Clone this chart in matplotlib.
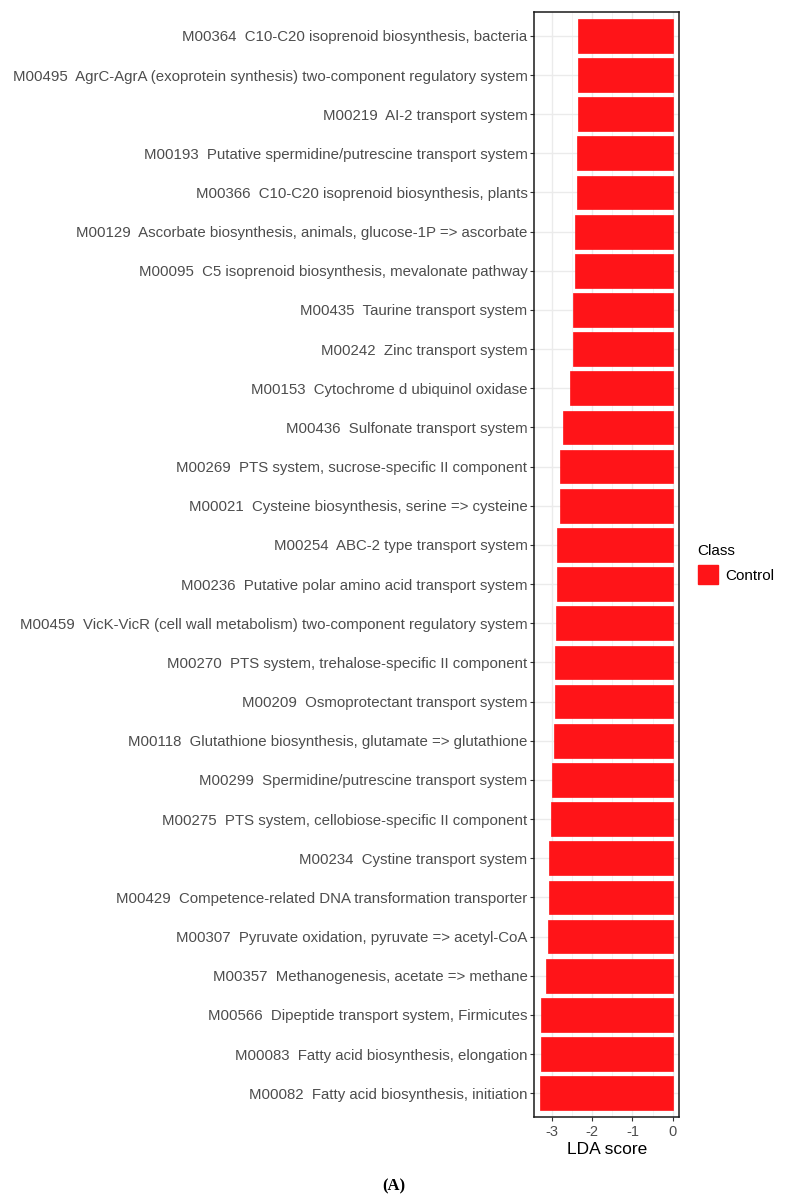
import numpy as np
import matplotlib
matplotlib.use('Agg')
from matplotlib import pyplot as plt
from matplotlib.patches import Patch

# modules, top to bottom as in the picture
modules = ['M00364  C10-C20 isoprenoid biosynthesis, bacteria',
           'M00495  AgrC-AgrA (exoprotein synthesis) two-component regulatory system',
           'M00219  AI-2 transport system',
           'M00193  Putative spermidine/putrescine transport system',
           'M00366  C10-C20 isoprenoid biosynthesis, plants',
           'M00129  Ascorbate biosynthesis, animals, glucose-1P => ascorbate',
           'M00095  C5 isoprenoid biosynthesis, mevalonate pathway',
           'M00435  Taurine transport system',
           'M00242  Zinc transport system',
           'M00153  Cytochrome d ubiquinol oxidase',
           'M00436  Sulfonate transport system',
           'M00269  PTS system, sucrose-specific II component',
           'M00021  Cysteine biosynthesis, serine => cysteine',
           'M00254  ABC-2 type transport system',
           'M00236  Putative polar amino acid transport system',
           'M00459  VicK-VicR (cell wall metabolism) two-component regulatory system',
           'M00270  PTS system, trehalose-specific II component',
           'M00209  Osmoprotectant transport system',
           'M00118  Glutathione biosynthesis, glutamate => glutathione',
           'M00299  Spermidine/putrescine transport system',
           'M00275  PTS system, cellobiose-specific II component',
           'M00234  Cystine transport system',
           'M00429  Competence-related DNA transformation transporter',
           'M00307  Pyruvate oxidation, pyruvate => acetyl-CoA',
           'M00357  Methanogenesis, acetate => methane',
           'M00566  Dipeptide transport system, Firmicutes',
           'M00083  Fatty acid biosynthesis, elongation',
           'M00082  Fatty acid biosynthesis, initiation']

lda = [-2.36, -2.36, -2.36, -2.38, -2.38, -2.43, -2.43, -2.47, -2.47, -2.55,
       -2.73, -2.80, -2.80, -2.88, -2.88, -2.89, -2.92, -2.92, -2.95, -2.99,
       -3.03, -3.07, -3.07, -3.10, -3.14, -3.26, -3.26, -3.29]

xticks = [-3, -2, -1, 0]
group = 'Control'

plt.rcParams['font.family'] = ['Liberation Sans', 'DejaVu Sans']

fig = plt.figure(figsize=(7.87, 11.99), dpi=100)
ax = fig.add_axes([0.679, 0.0686, 0.184, 0.9211])

y = np.arange(len(modules))[::-1]
ax.barh(y, lda, height=0.86, color='#ff1418', edgecolor='#ff1418', linewidth=0.5, zorder=3)

ax.set_ylim(-0.6, len(modules) - 0.4)
ax.set_xlim(-3.43, 0.16)
ax.set_yticks(y)
ax.set_yticklabels(modules)
ax.set_xticks(xticks)
ax.set_xticklabels([str(t) for t in xticks])
ax.set_xticks([-2.5, -1.5, -0.5], minor=True)

ax.grid(True, which='major', color='#ebebeb', linewidth=1.0, zorder=0)
ax.grid(True, which='minor', axis='x', color='#f3f3f3', linewidth=0.6, zorder=0)
ax.set_axisbelow(True)

ax.tick_params(axis='y', which='major', length=3, width=0.8, color='#333333',
               labelcolor='#4d4d4d', labelsize=10.8, pad=2)
ax.tick_params(axis='x', which='major', length=3, width=0.8, color='#333333',
               labelcolor='#4d4d4d', labelsize=10.5, pad=3)
ax.tick_params(axis='x', which='minor', length=0)
for s in ax.spines.values():
    s.set_color('#1a1a1a')
    s.set_linewidth(1.1)

ax.set_xlabel('LDA score', fontsize=12.5, color='black', labelpad=2)

fig.legend(handles=[Patch(facecolor='#ff1418', edgecolor='#ff1418')], labels=[group],
           title='Class', loc='upper left', bbox_to_anchor=(0.869, 0.558),
           frameon=False, fontsize=11, title_fontsize=11, alignment='left',
           handlelength=1.3, handleheight=1.5, handletextpad=0.5)

fig.text(0.5, 0.0108, '(A)', ha='center', va='center', fontsize=12,
         family='Liberation Serif', fontweight='bold')

fig.savefig('out.png', dpi=100)
